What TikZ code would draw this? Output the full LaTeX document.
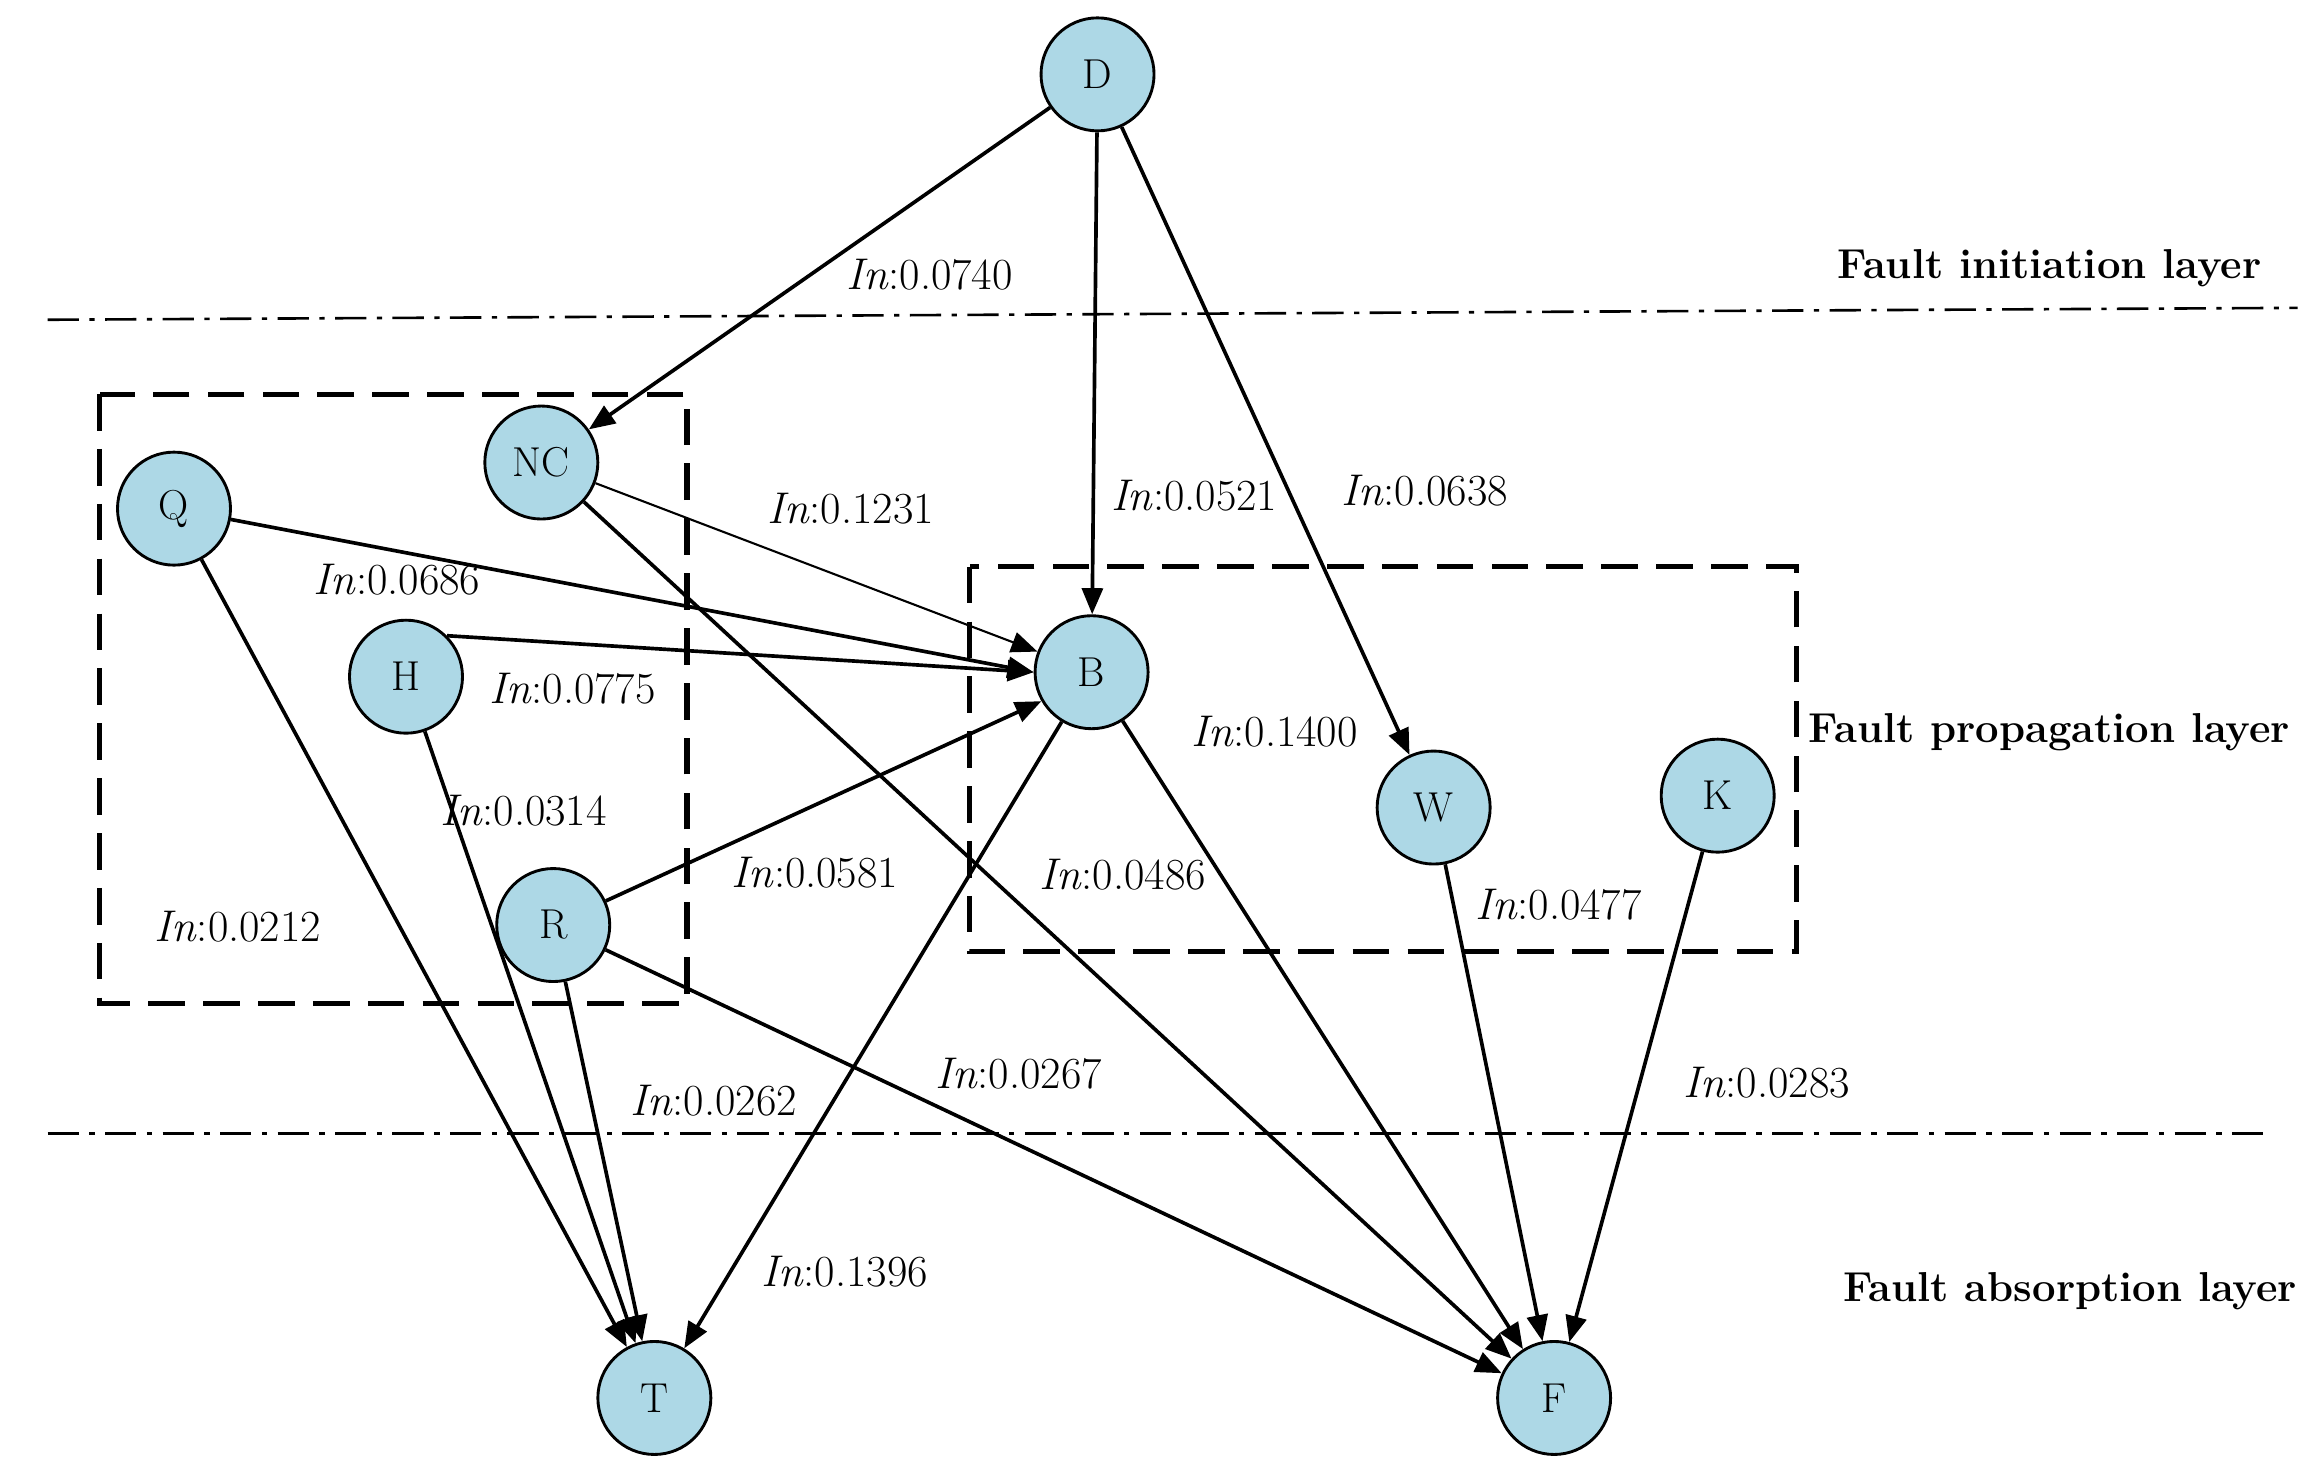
\documentclass[tikz,border=0pt]{standalone}
\usetikzlibrary{arrows.meta}
\definecolor{nodefill}{RGB}{173,216,230}
\begin{document}
\begin{tikzpicture}[x=0.02cm,y=-0.02cm,
  st/.style={circle,draw,line width=1.1pt,fill=nodefill,minimum size=1.52cm,inner sep=0pt,font=\fontsize{16}{18}\selectfont},
  e/.style={line width=1.4pt,-{Triangle[length=10pt,width=8pt]}},
  lb/.style={font=\fontsize{17}{19}\selectfont,inner sep=1pt},
  ly/.style={font=\fontsize{16}{18}\selectfont\bfseries,inner sep=1pt}]
\useasboundingbox (0,0) rectangle (1560,995);
\draw[line width=1pt,dash pattern=on 12pt off 4pt on 2pt off 4pt] (32,215) -- (1545,207);
\draw[line width=1pt,dash pattern=on 12pt off 4pt on 2pt off 4pt] (32,762) -- (1525,762);
\draw[line width=2pt,dash pattern=on 14pt off 7pt] (67,265) rectangle (462,675);
\draw[line width=2pt,dash pattern=on 14pt off 7pt] (652,381) rectangle (1208,640);
\node[ly] (l1) at (1378,180) {Fault initiation layer};
\node[ly] (l2) at (1378,492) {Fault propagation layer};
\node[ly] (l3) at (1392,868) {Fault absorption layer};
\node[st] (D) at (738,50) {D};
\node[st] (NC) at (364,311) {NC};
\node[st] (Q) at (117,342) {Q};
\node[st] (H) at (273,455) {H};
\node[st] (R) at (372,622) {R};
\node[st] (B) at (734,452) {B};
\node[st] (W) at (964,543) {W};
\node[st] (K) at (1155,535) {K};
\node[st] (T) at (440,940) {T};
\node[st] (F) at (1045,940) {F};
\draw[e] (D) -- (NC);
\draw[e] (D) -- (B);
\draw[e] (D) -- (W);
\draw[e,line width=0.8pt] (NC) -- (B);
\draw[e] (NC) -- (F);
\draw[e] (Q) -- (B.west);
\draw[e] (Q) -- (T);
\draw[e] (H.north east) -- (B.west);
\draw[e] (H) -- (T);
\draw[e] (R) -- (B.-150);
\draw[e] (R) -- (T);
\draw[e] (R) -- (F);
\draw[e] (B) -- (T);
\draw[e] (B) -- (F);
\draw[e] (W) -- (F);
\draw[e] (K) -- (F);
\node[lb] (a1) at (625,185) {\textit{In}:0.0740};
\node[lb] (a2) at (803,333) {\textit{In}:0.0521};
\node[lb] (a3) at (958,330) {\textit{In}:0.0638};
\node[lb] (a4) at (572,342) {\textit{In}:0.1231};
\node[lb] (a5) at (755,588) {\textit{In}:0.0486};
\node[lb] (a6) at (267,390) {\textit{In}:0.0686};
\node[lb] (a7) at (160,623) {\textit{In}:0.0212};
\node[lb] (a8) at (385,463) {\textit{In}:0.0775};
\node[lb] (a9) at (352,545) {\textit{In}:0.0314};
\node[lb] (a10) at (548,587) {\textit{In}:0.0581};
\node[lb] (a11) at (480,740) {\textit{In}:0.0262};
\node[lb] (a12) at (685,722) {\textit{In}:0.0267};
\node[lb] (a13) at (568,855) {\textit{In}:0.1396};
\node[lb] (a14) at (857,492) {\textit{In}:0.1400};
\node[lb] (a15) at (1048,608) {\textit{In}:0.0477};
\node[lb] (a16) at (1188,728) {\textit{In}:0.0283};
\end{tikzpicture}
\end{document}
